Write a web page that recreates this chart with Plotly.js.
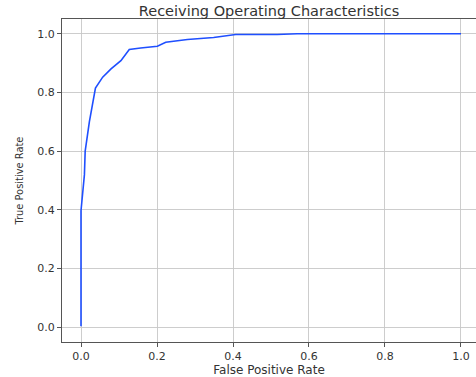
<!DOCTYPE html>
<html>
<head>
<meta charset="utf-8">
<script src="https://cdn.plot.ly/plotly-3.0.1.min.js"></script>
<style>html,body{margin:0;padding:0;overflow:hidden;background:#fff}</style>
</head>
<body>
<div id="chart" style="width:476px;height:377px"></div>
<script>
const fpr = [0.0, 0.0, 0.009, 0.011, 0.022, 0.030, 0.038, 0.057, 0.079, 0.105, 0.127, 0.157, 0.201, 0.223, 0.280, 0.349, 0.407, 0.516, 0.569, 1.0];
const tpr = [0.004, 0.397, 0.52, 0.60, 0.70, 0.757, 0.815, 0.852, 0.880, 0.908, 0.946, 0.951, 0.957, 0.971, 0.980, 0.987, 0.997, 0.997, 1.0, 1.0];
const tickVals = [0.0, 0.2, 0.4, 0.6, 0.8, 1.0];
const titleText = "Receiving Operating Characteristics";
const xTitle = "False Positive Rate";
const yTitle = "True Positive Rate";

const trace = {
  x: fpr, y: tpr, mode: 'lines', type: 'scatter',
  line: {color: '#1f4fff', width: 1.6},
  hoverinfo: 'skip', showlegend: false
};
const axisCommon = {
  showgrid: true, gridcolor: '#c8c8c8', gridwidth: 0.9,
  zeroline: false, showline: true, linecolor: '#555', linewidth: 1,
  ticks: 'outside', ticklen: 4, tickcolor: '#555', tickwidth: 1,
  tickvals: tickVals, tickformat: '.1f',
  tickfont: {family: 'DejaVu Sans', size: 11, color: '#333'}
};
const layout = {
  width: 476, height: 377,
  margin: {l: 62, r: 0, t: 19, b: 35},
  paper_bgcolor: '#fff', plot_bgcolor: '#fff',
  title: {text: titleText, font: {family: 'DejaVu Sans', size: 14.5, color: '#333'},
          x: 0.5, xref: 'paper', xanchor: 'center', y: 0.972, yref: 'container', yanchor: 'middle'},
  xaxis: Object.assign({}, axisCommon, {
    range: [-0.05, 1.0395], mirror: true,
    title: {text: xTitle, font: {family: 'DejaVu Sans', size: 12, color: '#333'}, standoff: 3}
  }),
  yaxis: Object.assign({}, axisCommon, {
    range: [-0.05, 1.05], mirror: false,
    title: {text: yTitle, font: {family: 'DejaVu Sans Condensed, Liberation Sans Narrow, DejaVu Sans', size: 11, color: '#333'}, standoff: 11}
  })
};
Plotly.newPlot('chart', [trace], layout, {staticPlot: true, displayModeBar: false});
</script>
</body>
</html>
